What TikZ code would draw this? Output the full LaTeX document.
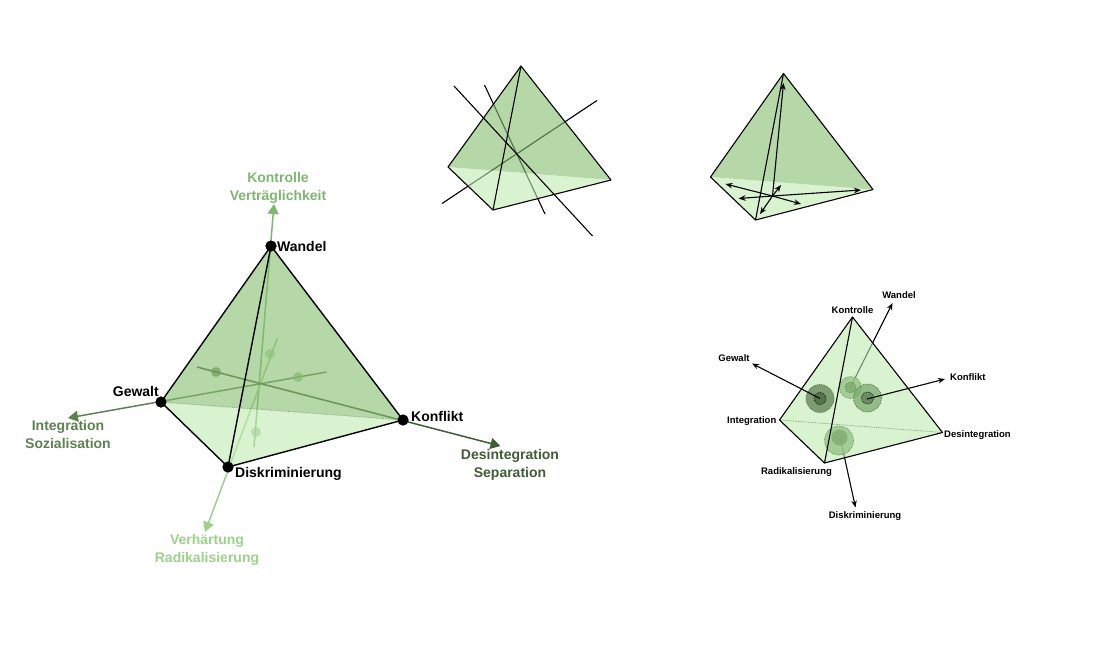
\documentclass[tikz,border=0pt]{standalone}
\usepackage{fontspec}
\setmainfont{Liberation Sans}
\usetikzlibrary{arrows.meta}
\definecolor{faceback}{HTML}{85BC6E}
\definecolor{facefront}{HTML}{C0E9B1}
\definecolor{kontrollegreen}{HTML}{7FB573}
\definecolor{verhaertgreen}{HTML}{9DD18B}
\definecolor{integrgreen}{HTML}{5F8053}
\definecolor{desintgreen}{HTML}{3F5C36}
\begin{document}
\begin{tikzpicture}[
    x=1pt, y=-1pt,
    backface/.style={fill=faceback, fill opacity=0.6},
    frontface/.style={fill=facefront, fill opacity=0.6},
    edgeline/.style={draw=black, line width=1.4pt, line join=round},
    thinedge/.style={draw=black, line width=1.1pt, line join=round},
    hiddenedge/.style={draw=verhaertgreen!70!black, densely dotted, line width=0.7pt},
    corner/.style={circle, fill=black, inner sep=0pt, minimum size=11pt},
    corelabel/.style={font=\bfseries\fontsize{14}{17}\selectfont, text=black, inner sep=0pt},
    axislabel/.style={font=\bfseries\fontsize{14}{18}\selectfont, align=center, inner sep=0pt},
    smalllabel/.style={font=\bfseries\fontsize{9.5}{11}\selectfont, text=black, inner sep=0pt},
    bigaxis/.style={line width=1.5pt, -{Triangle[length=10pt,width=11pt]}},
    pointer/.style={draw=black, line width=1.1pt, -{Stealth[length=7pt,width=5.5pt]}},
    axisdot/.style={circle, inner sep=0pt, minimum size=10pt, fill opacity=0.65},
    blob/.style={circle, inner sep=0pt, densely dotted, line width=0.7pt, fill opacity=0.75, draw opacity=0.9}]

\useasboundingbox (0,0) rectangle (1100,654);

% big one
\node (Wandel) [corner] at (271,246) {};
\node (Gewalt) [corner] at (161,402) {};
\node (Diskr) [corner] at (228,467) {};
\node (Konflikt) [corner] at (403,420) {};

\coordinate (KontrolleA) at (254,447);
\coordinate (KontrolleB) at (274,204);
\coordinate (VerhaertA) at (277.5,338);
\coordinate (VerhaertB) at (205,532);
\coordinate (IntegrA) at (326.5,372);
\coordinate (IntegrB) at (68,418);
\coordinate (DesintA) at (197,367);
\coordinate (DesintB) at (500.5,446);

\draw [bigaxis, draw=kontrollegreen, fill=kontrollegreen] (KontrolleA) -- (KontrolleB);
\draw [bigaxis, draw=verhaertgreen, fill=verhaertgreen] (VerhaertA) -- (VerhaertB);
\draw [bigaxis, draw=integrgreen, fill=integrgreen] (IntegrA) -- (IntegrB);
\draw [bigaxis, draw=desintgreen, fill=desintgreen] (DesintA) -- (DesintB);

\node (DotKontrolle) [axisdot, fill=kontrollegreen] at (256,432) {};
\node (DotVerhaert) [axisdot, fill=verhaertgreen] at (270,354) {};
\node (DotIntegr) [axisdot, fill=verhaertgreen!60!integrgreen] at (298,377) {};
\node (DotDesint) [axisdot, fill=desintgreen] at (216,372) {};

\path [backface] (Wandel.center) -- (Gewalt.center) -- (Konflikt.center) -- cycle;
\path [frontface] (Gewalt.center) -- (Diskr.center) -- (Konflikt.center) -- cycle;
\draw [hiddenedge] (Gewalt.center) -- (Konflikt.center);
\draw [edgeline] (Gewalt.center) -- (Wandel.center) -- (Konflikt.center) -- (Diskr.center) -- cycle;
\draw [edgeline] (Wandel.center) -- (Diskr.center);

\node (Wandel2) [corner] at (271,246) {};
\node (Gewalt2) [corner] at (161,402) {};
\node (Diskr2) [corner] at (228,467) {};
\node (Konflikt2) [corner] at (403,420) {};

\node (WandelText) [corelabel, anchor=west] at (277,246) {Wandel};
\node (GewaltText) [corelabel, anchor=east] at (159,391) {Gewalt};
\node (DiskrText) [corelabel, anchor=west] at (235,474) {Diskriminierung};
\node (KonfliktText) [corelabel, anchor=west] at (411,416) {Konflikt};

\node (KontrolleText) [axislabel, text=kontrollegreen] at (278,188) {Kontrolle\\Verträglichkeit};
\node (VerhaertText) [axislabel, text=verhaertgreen] at (207,550) {Verhärtung\\Radikalisierung};
\node (IntegrText) [axislabel, text=integrgreen] at (68,434) {Integration\\Sozialisation};
\node (DesintText) [axislabel, text=desintgreen] at (510,464.5) {Desintegration\\Separation};

% top middle
\coordinate (TopA) at (521,66);
\coordinate (LeftA) at (448,167);
\coordinate (BottomA) at (493,210);
\coordinate (RightA) at (611,180);
\coordinate (LineOneA) at (454,86);
\coordinate (LineOneB) at (592.5,236);
\coordinate (LineTwoA) at (484.5,85);
\coordinate (LineTwoB) at (545,214);
\coordinate (LineThreeA) at (597,100.5);
\coordinate (LineThreeB) at (442,203.5);

\draw [thinedge] (LineTwoA) -- (LineTwoB);
\draw [thinedge] (LineThreeA) -- (LineThreeB);
\path [backface] (TopA) -- (LeftA) -- (RightA) -- cycle;
\path [frontface] (LeftA) -- (BottomA) -- (RightA) -- cycle;
\draw [thinedge] (LineOneA) -- (LineOneB);
\draw [thinedge] (LeftA) -- (TopA) -- (RightA) -- (BottomA) -- cycle;
\draw [thinedge] (TopA) -- (BottomA);

% top right
\coordinate (TopB) at (783.5,73.5);
\coordinate (LeftB) at (710.5,177);
\coordinate (BottomB) at (755.5,220);
\coordinate (RightB) at (873,189.5);
\coordinate (MidB) at (772.5,196);
\coordinate (ArrowUp) at (783.5,83);
\coordinate (ArrowOne) at (725.5,184);
\coordinate (ArrowTwo) at (738.5,198.5);
\coordinate (ArrowThree) at (801,204);
\coordinate (ArrowFour) at (861,190);
\coordinate (ArrowFive) at (781,185);
\coordinate (ArrowSix) at (760,214);

\path [backface] (TopB) -- (LeftB) -- (RightB) -- cycle;
\path [frontface] (LeftB) -- (BottomB) -- (RightB) -- cycle;
\draw [thinedge] (LeftB) -- (TopB) -- (RightB) -- (BottomB) -- cycle;
\draw [thinedge] (TopB) -- (BottomB);
\foreach \tipname in {ArrowUp, ArrowOne, ArrowTwo, ArrowThree, ArrowFour, ArrowFive, ArrowSix}
    \draw [pointer] (MidB) -- (\tipname);

% lower right
\coordinate (TopC) at (852.5,317);
\coordinate (LeftC) at (779.5,420);
\coordinate (BottomC) at (824.5,463);
\coordinate (RightC) at (942.5,432.5);
\coordinate (WandelFrom) at (850,388);
\coordinate (WandelTo) at (892.5,303);
\coordinate (DiskrFrom) at (840,437);
\coordinate (DiskrTo) at (855.5,507.5);
\coordinate (GewaltFrom) at (820,398.5);
\coordinate (GewaltTo) at (752,363.5);
\coordinate (KonfliktFrom) at (867,399);
\coordinate (KonfliktTo) at (945,379);

\draw [pointer] (WandelFrom) -- (WandelTo);
\draw [pointer] (DiskrFrom) -- (DiskrTo);
\path [frontface] (TopC) -- (LeftC) -- (BottomC) -- (RightC) -- cycle;
\draw [hiddenedge] (LeftC) -- (RightC);
\draw [thinedge] (LeftC) -- (TopC) -- (RightC) -- (BottomC) -- cycle;

\node (BlobWandel) [blob, minimum size=22pt, fill=verhaertgreen!80!integrgreen, draw=integrgreen] at (850.5,387.5) {};
\node (CoreWandel) [blob, minimum size=11pt, fill=integrgreen!50!verhaertgreen, draw=integrgreen] at (850.5,387.5) {};
\node (BlobDiskr) [blob, minimum size=29pt, fill=verhaertgreen!80!integrgreen, draw=integrgreen] at (839,440.5) {};
\node (CoreDiskr) [blob, minimum size=16pt, fill=integrgreen!50!verhaertgreen, draw=none] at (839.5,437.5) {};
\node (BlobGewalt) [blob, minimum size=28pt, fill=integrgreen, draw=desintgreen] at (820,398.5) {};
\node (CoreGewalt) [blob, minimum size=12pt, fill=desintgreen!70!integrgreen, draw=black] at (820,398.5) {};
\node (BlobKonflikt) [blob, minimum size=28pt, fill=kontrollegreen!80!integrgreen, draw=desintgreen] at (867.5,398) {};
\node (CoreKonflikt) [blob, minimum size=12pt, fill=integrgreen, draw=black] at (867.5,398) {};

\draw [thinedge] (TopC) -- (BottomC);
\draw [pointer] (GewaltFrom) -- (GewaltTo);
\draw [pointer] (KonfliktFrom) -- (KonfliktTo);

\node (SmallWandel) [smalllabel] at (899,295) {Wandel};
\node (SmallKontrolle) [smalllabel] at (852.5,310) {Kontrolle};
\node (SmallGewalt) [smalllabel] at (734,358) {Gewalt};
\node (SmallKonflikt) [smalllabel, anchor=west] at (950,377) {Konflikt};
\node (SmallIntegr) [smalllabel, anchor=east] at (776.5,421) {Integration};
\node (SmallDesint) [smalllabel, anchor=west] at (944,435) {Desintegration};
\node (SmallRadikal) [smalllabel] at (796.5,472) {Radikalisierung};
\node (SmallDiskr) [smalllabel] at (865,516) {Diskriminierung};
\end{tikzpicture}
\end{document}
